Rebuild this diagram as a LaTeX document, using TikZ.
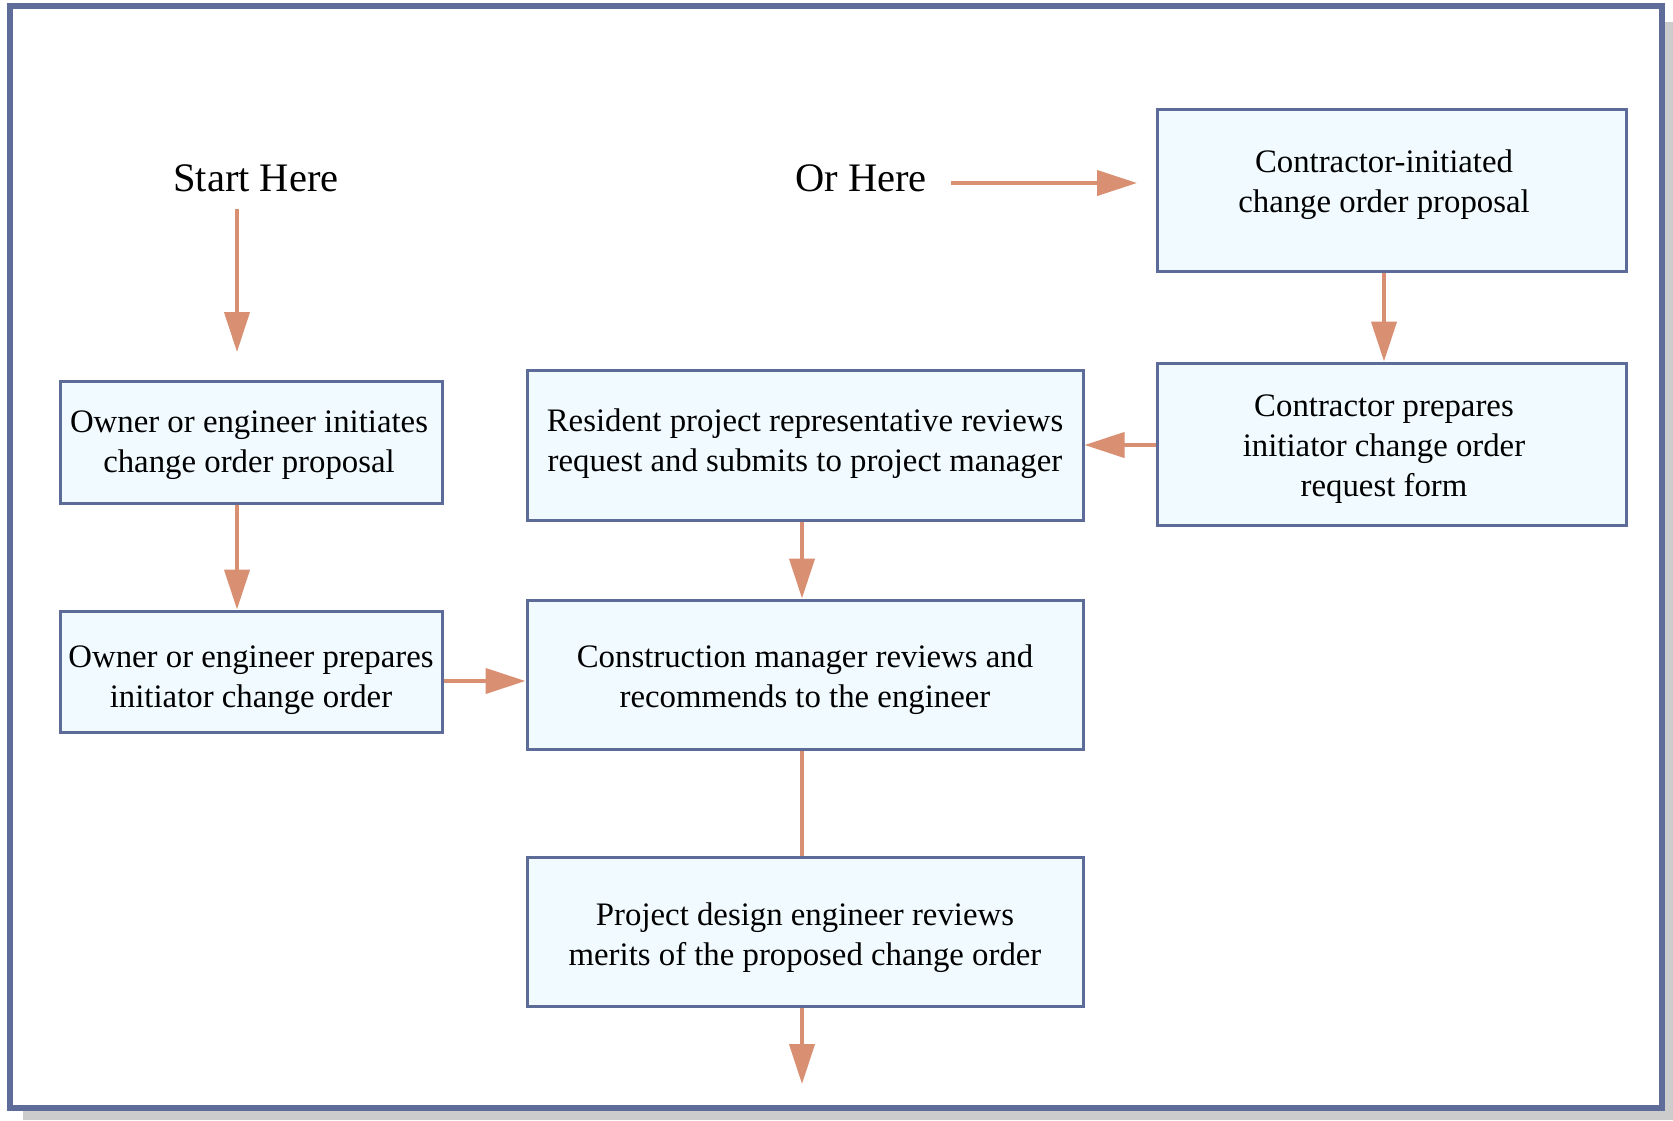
\documentclass[tikz,border=0pt]{standalone}
\usepackage{fontspec}
\setmainfont{Liberation Serif}
\usetikzlibrary{arrows.meta}
\definecolor{framecol}{RGB}{94,108,153}
\definecolor{boxline}{RGB}{92,107,152}
\definecolor{boxfill}{RGB}{240,250,255}
\definecolor{flowcol}{RGB}{217,143,114}
\definecolor{shadowcol}{RGB}{204,204,204}
\begin{document}
\begin{tikzpicture}[x=1pt,y=-1pt,
  stepbox/.style={draw=boxline, fill=boxfill, line width=3pt, inner sep=0pt},
  steptext/.style={align=center, font=\fontsize{32.8}{39.8}\selectfont, inner sep=0pt},
  label/.style={font=\fontsize{40.5}{46}\selectfont, inner sep=0pt},
  flow/.style={draw=flowcol, line width=4pt, -{Triangle[width=25pt,length=40pt]}},
  plain/.style={draw=flowcol, line width=4pt}]
\useasboundingbox (0,0) rectangle (1673,1120);
% drop shadow and outer frame
\fill[shadowcol] (23,22) rectangle (1673,1120);
\draw[framecol, fill=white, line width=6pt] (10,6) rectangle (1662,1108);

% process boxes
\node[stepbox, minimum width=382pt, minimum height=122pt] (ownInit) at (251,442) {};
\node[stepbox, minimum width=382pt, minimum height=121pt] (ownPrep) at (251,671.5) {};
\node[stepbox, minimum width=556pt, minimum height=150pt] (resRev) at (805,445) {};
\node[stepbox, minimum width=556pt, minimum height=149pt] (cmRev) at (805,674.5) {};
\node[stepbox, minimum width=556pt, minimum height=149pt] (pdRev) at (805,931.5) {};
\node[stepbox, minimum width=469pt, minimum height=162pt] (conInit) at (1391.5,190) {};
\node[stepbox, minimum width=469pt, minimum height=162pt] (conPrep) at (1391.5,444) {};

% box captions
\node[steptext] (ownInitText) at (249,445)
  {Owner or engineer initiates\\change order proposal};
\node[steptext] (ownPrepText) at (251,680)
  {Owner or engineer prepares\\initiator change order};
\node[steptext] (resRevText) at (805,444)
  {Resident project representative reviews\\request and submits to project manager};
\node[steptext] (cmRevText) at (805,680)
  {Construction manager reviews and\\recommends to the engineer};
\node[steptext] (pdRevText) at (805,938)
  {Project design engineer reviews\\merits of the proposed change order};
\node[steptext] (conInitText) at (1384,185)
  {Contractor-initiated\\change order proposal};
\node[steptext] (conPrepText) at (1384,449)
  {Contractor prepares\\initiator change order\\request form};

% entry labels
\node[label] (startHere) at (256,178) {Start Here};
\node[label] (orHere) at (861,178) {Or Here};

% free arrow ends
\coordinate (startTop) at (237,209);
\coordinate (startTip) at (237,352);
\coordinate (orStart) at (951,183);
\coordinate (orTip) at (1137,183);
\coordinate (endTip) at (802,1084);

% connectors
\draw[flow] (startTop) -- (startTip);
\draw[flow] (ownInit.south -| startTop) -- (ownPrep.north -| startTop);
\draw[flow] (orStart) -- (orTip);
\draw[flow] (conInit.south -| 1384,0) -- (conPrep.north -| 1384,0);
\draw[flow] (conPrep.west |- 0,445) -- (resRev.east |- 0,445);
\draw[flow] (resRev.south -| 802,0) -- (cmRev.north -| 802,0);
\draw[flow] (ownPrep.east |- 0,681) -- (cmRev.west |- 0,681);
\draw[plain] (cmRev.south -| 802,0) -- (pdRev.north -| 802,0);
\draw[flow] (pdRev.south -| 802,0) -- (endTip);
\end{tikzpicture}
\end{document}
